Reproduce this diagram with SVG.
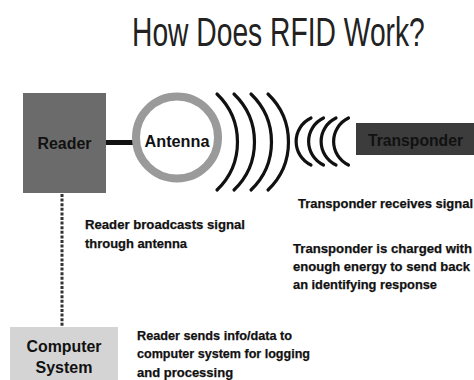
<svg xmlns="http://www.w3.org/2000/svg" width="474" height="380" viewBox="0 0 474 380">
<style>
.lbl{font-family:"Liberation Sans",Arial,sans-serif;font-weight:bold;fill:#111;}
.node{font-size:16px;text-anchor:middle;}
.note{font-size:13px;stroke:#111;stroke-width:0.25;}
.wave{fill:none;stroke:#111;stroke-width:3.2;stroke-linecap:round;}
</style>
<rect width="474" height="380" fill="#fff"/>
<text transform="translate(132,46) scale(0.706,1)" x="0" y="0" font-family="Liberation Sans,Arial,sans-serif" font-size="40" fill="#222">How Does RFID Work?</text>

<g id="connectors">
  <line x1="104" y1="142.5" x2="135" y2="142.5" stroke="#111" stroke-width="5"/>
  <line x1="62" y1="194" x2="62" y2="326" stroke="#333" stroke-width="3" stroke-dasharray="3 1.6"/>
  <g id="signal-out">
    <path class="wave" d="M217,94 A66.5,66.5 0 0 1 217,190"/>
    <path class="wave" d="M234,94 A66.5,66.5 0 0 1 234,190"/>
    <path class="wave" d="M251,94 A66.5,66.5 0 0 1 251,190"/>
    <path class="wave" d="M268,94 A66.5,66.5 0 0 1 268,190"/>
  </g>
  <g id="signal-in">
    <path class="wave" d="M311,118 A26,26 0 0 0 311,165"/>
    <path class="wave" d="M323.5,118 A26,26 0 0 0 323.5,165"/>
    <path class="wave" d="M336,118 A26,26 0 0 0 336,165"/>
    <path class="wave" d="M348.5,118 A26,26 0 0 0 348.5,165"/>
  </g>
</g>

<g id="reader">
  <rect x="23" y="93" width="83" height="100" fill="#6b6b6b"/>
  <text class="lbl node" x="64.5" y="149" textLength="54" lengthAdjust="spacingAndGlyphs">Reader</text>
</g>

<g id="antenna">
  <circle cx="177" cy="137.5" r="41" fill="#fff" stroke="#9a9a9a" stroke-width="8"/>
  <text class="lbl node" x="177" y="147" textLength="65" lengthAdjust="spacingAndGlyphs">Antenna</text>
</g>

<g id="transponder">
  <rect x="356" y="123" width="118" height="32" fill="#3c3c3c"/>
  <text class="lbl" x="368" y="146" font-size="16" fill="#151515" textLength="95" lengthAdjust="spacingAndGlyphs">Transponder</text>
</g>

<g id="computer-system">
  <rect x="10" y="327" width="108" height="53" fill="#d4d4d4"/>
  <text class="lbl node" x="64" y="352" textLength="75" lengthAdjust="spacingAndGlyphs">Computer</text>
  <text class="lbl node" x="64" y="373">System</text>
</g>

<g id="notes">
  <text class="lbl note" x="85" y="229" textLength="160" lengthAdjust="spacingAndGlyphs">Reader broadcasts signal</text>
  <text class="lbl note" x="85" y="248" textLength="102" lengthAdjust="spacingAndGlyphs">through antenna</text>
  <text class="lbl note" x="298" y="208" textLength="175" lengthAdjust="spacingAndGlyphs">Transponder receives signal</text>
  <text class="lbl note" x="293" y="253" textLength="179" lengthAdjust="spacingAndGlyphs">Transponder is charged with</text>
  <text class="lbl note" x="293" y="271" textLength="177" lengthAdjust="spacingAndGlyphs">enough energy to send back</text>
  <text class="lbl note" x="293" y="289" textLength="144" lengthAdjust="spacingAndGlyphs">an identifying response</text>
  <text class="lbl note" x="137" y="340" textLength="155" lengthAdjust="spacingAndGlyphs">Reader sends info/data to</text>
  <text class="lbl note" x="137" y="358" textLength="173" lengthAdjust="spacingAndGlyphs">computer system for logging</text>
  <text class="lbl note" x="137" y="377">and processing</text>
</g>
</svg>
